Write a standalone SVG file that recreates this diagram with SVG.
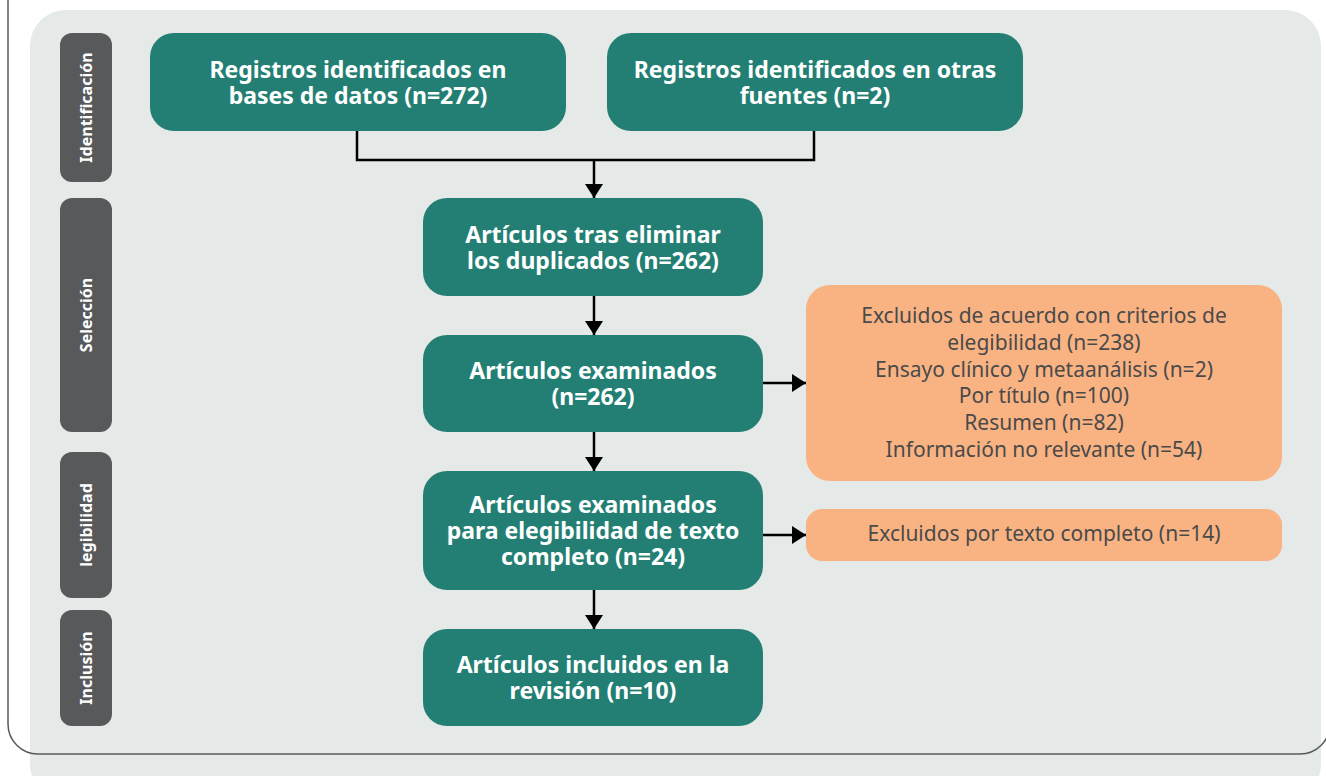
<svg xmlns="http://www.w3.org/2000/svg" width="1326" height="776" viewBox="0 0 1326 776">
  <defs>
    <style>
      .bg { fill: #e5e9e8; }
      .frame { fill: none; stroke: #58595b; stroke-width: 1.5; }
      .phase { fill: #58595b; }
      .phase-t { fill: #ffffff; font-family: "Noto Sans", "Open Sans", sans-serif; font-weight: bold; font-size: 16px; text-anchor: middle; }
      .teal { fill: #237f73; }
      .teal-t { fill: #ffffff; font-family: "Noto Sans", "Open Sans", sans-serif; font-weight: bold; font-size: 23px; text-anchor: middle; }
      .orange { fill: #f9b383; }
      .orange-t { fill: #4a4a4a; font-family: "Noto Sans", "Open Sans", sans-serif; font-size: 21px; text-anchor: middle; }
      .conn { fill: none; stroke: #000000; stroke-width: 2.5; }
    </style>
    <marker id="arrow" markerUnits="userSpaceOnUse" markerWidth="18" markerHeight="18" viewBox="0 0 14 18" refX="14" refY="9" orient="auto">
      <path d="M0,0 L14,9 L0,18 Z" fill="#000000"/>
    </marker>
  </defs>

  <rect class="bg" x="30" y="10" width="1291" height="790" rx="36" ry="36"/>
  <path class="frame" d="M8,0 V724 A30,30 0 0 0 38,754 H1300 A30,30 0 0 0 1330,724"/>

  <g id="phase-identificacion">
    <rect class="phase" x="60" y="33" width="52" height="149" rx="12"/>
    <text class="phase-t" transform="translate(92,107.5) rotate(-90)">Identificación</text>
  </g>
  <g id="phase-seleccion">
    <rect class="phase" x="60" y="198" width="52" height="234" rx="12"/>
    <text class="phase-t" transform="translate(92,315) rotate(-90)">Selección</text>
  </g>
  <g id="phase-elegibilidad">
    <rect class="phase" x="60" y="452" width="52" height="146" rx="12"/>
    <text class="phase-t" transform="translate(92,525) rotate(-90)">legibilidad</text>
  </g>
  <g id="phase-inclusion">
    <rect class="phase" x="60" y="610" width="52" height="116" rx="12"/>
    <text class="phase-t" transform="translate(92,668) rotate(-90)">Inclusión</text>
  </g>

  <g id="connectors">
    <path class="conn" d="M357,131 V160 H814 V131"/>
    <path class="conn" d="M594,160 V198" marker-end="url(#arrow)"/>
    <path class="conn" d="M594,296 V335" marker-end="url(#arrow)"/>
    <path class="conn" d="M594,432 V471" marker-end="url(#arrow)"/>
    <path class="conn" d="M594,590 V629" marker-end="url(#arrow)"/>
    <path class="conn" d="M763,383 H806" marker-end="url(#arrow)"/>
    <path class="conn" d="M763,535 H806" marker-end="url(#arrow)"/>
  </g>

  <g id="node-bases-datos">
    <rect class="teal" x="150" y="33" width="416" height="98" rx="24"/>
    <text class="teal-t" x="358" y="78">Registros identificados en</text>
    <text class="teal-t" x="358" y="104">bases de datos (n=272)</text>
  </g>
  <g id="node-otras-fuentes">
    <rect class="teal" x="607" y="33" width="416" height="98" rx="24"/>
    <text class="teal-t" x="815" y="78">Registros identificados en otras</text>
    <text class="teal-t" x="815" y="104">fuentes (n=2)</text>
  </g>
  <g id="node-duplicados">
    <rect class="teal" x="423" y="198" width="340" height="98" rx="24"/>
    <text class="teal-t" x="593" y="243">Artículos tras eliminar</text>
    <text class="teal-t" x="593" y="269">los duplicados (n=262)</text>
  </g>
  <g id="node-examinados">
    <rect class="teal" x="423" y="335" width="340" height="97" rx="24"/>
    <text class="teal-t" x="593" y="379">Artículos examinados</text>
    <text class="teal-t" x="593" y="405">(n=262)</text>
  </g>
  <g id="node-texto-completo">
    <rect class="teal" x="423" y="471" width="340" height="119" rx="24"/>
    <text class="teal-t" x="593" y="513">Artículos examinados</text>
    <text class="teal-t" x="593" y="539">para elegibilidad de texto</text>
    <text class="teal-t" x="593" y="565">completo (n=24)</text>
  </g>
  <g id="node-incluidos">
    <rect class="teal" x="423" y="629" width="340" height="97" rx="24"/>
    <text class="teal-t" x="593" y="673">Artículos incluidos en la</text>
    <text class="teal-t" x="593" y="699">revisión (n=10)</text>
  </g>
  <g id="node-excluidos-criterios">
    <rect class="orange" x="806" y="285" width="476" height="196" rx="24"/>
    <text class="orange-t" x="1044" y="323">Excluidos de acuerdo con criterios de</text>
    <text class="orange-t" x="1044" y="350">elegibilidad (n=238)</text>
    <text class="orange-t" x="1044" y="377">Ensayo clínico y metaanálisis (n=2)</text>
    <text class="orange-t" x="1044" y="403">Por título (n=100)</text>
    <text class="orange-t" x="1044" y="430">Resumen (n=82)</text>
    <text class="orange-t" x="1044" y="457">Información no relevante (n=54)</text>
  </g>
  <g id="node-excluidos-texto">
    <rect class="orange" x="806" y="509" width="476" height="52" rx="16"/>
    <text class="orange-t" x="1044" y="541">Excluidos por texto completo (n=14)</text>
  </g>
</svg>
